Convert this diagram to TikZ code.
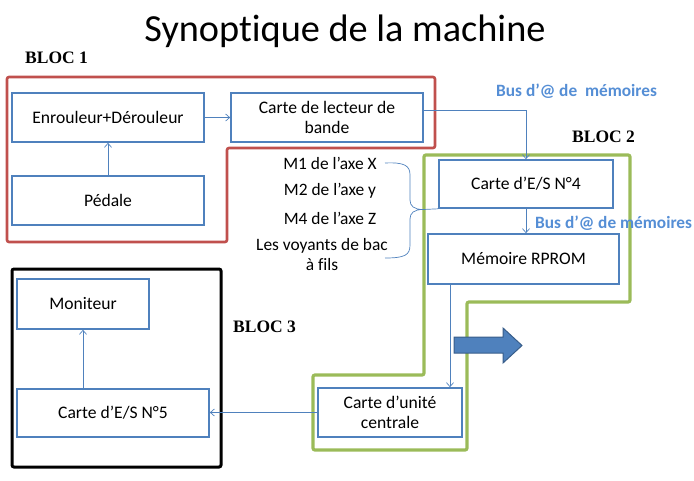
\documentclass[tikz,border=0pt]{standalone}
\usepackage{fontspec}
\setmainfont{Carlito}[Ligatures={NoCommon}]
\newfontfamily\blocfont{Liberation Serif}
\usetikzlibrary{arrows.meta,calc}
\definecolor{boxblue}{HTML}{4F81BD}
\definecolor{busblue}{HTML}{558ED5}
\definecolor{redb}{HTML}{C0504D}
\definecolor{greenb}{HTML}{9BBB59}
\definecolor{darkblue}{HTML}{385D8A}
\tikzset{
  box/.style={draw=boxblue, line width=1.6pt, inner sep=0pt, align=center,
    font=\fontsize{17.6}{20.5}\selectfont, text=black},
  conn/.style={draw=boxblue, line width=0.7pt, -{Straight Barb[length=4pt,width=7pt]}},
  plain/.style={draw=boxblue, line width=0.7pt},
  bloc/.style={font=\blocfont\bfseries\fontsize{17.5}{20}\selectfont, inner sep=0pt},
  bus/.style={font=\bfseries\fontsize{17.3}{18}\selectfont, text=busblue, inner sep=0pt},
  lbl/.style={font=\fontsize{17.4}{20}\selectfont, inner sep=0pt, align=center},
}
\begin{document}
\begin{tikzpicture}[x=1pt,y=-1pt]
\useasboundingbox (0,0) rectangle (694,480);
% title
\node[inner sep=0pt, font=\fontsize{38.3}{42}\selectfont] (title) at (345,31) {Synoptique de la machine};
% bloc outlines
\draw[redb, line width=2.6pt, rounded corners=2pt] (7,77) -- (435,77) -- (435,148) -- (227,148) -- (227,242) -- (7,242) -- cycle;
\draw[greenb, line width=3.2pt, rounded corners=2pt] (424,155) -- (630,155) -- (630,302) -- (467,302) -- (467,450) -- (313,450) -- (313,375) -- (424,375) -- cycle;
\draw[black, line width=3pt, rounded corners=2pt] (12,269) rectangle (221,467);
% block labels
\node[bloc, anchor=west] (b1) at (25,58) {BLOC 1};
\node[bloc, anchor=west] (b2) at (572,137) {BLOC 2};
\node[bloc, anchor=west] (b3) at (233,327) {BLOC 3};
\node[bus, anchor=west] (bus1) at (496,91) {Bus d’@ de \ mémoires};
\node[bus, anchor=west] (bus2) at (535,223) {Bus d’@ de mémoires};
% boxes
\node[box, minimum width=192pt, minimum height=49pt] (enr) at (108,117.5) {Enrouleur+Dérouleur};
\node[box, minimum width=192pt, minimum height=49pt] (lec) at (327,117.5) {Carte de lecteur de\\bande};
\node[box, minimum width=192pt, minimum height=49pt] (ped) at (108,200.5) {Pédale};
\node[box, minimum width=174pt, minimum height=48pt] (es4) at (526,184) {Carte d’E/S N°4};
\node[box, minimum width=191pt, minimum height=50pt] (mem) at (523.5,259) {Mémoire RPROM};
\node[box, minimum width=144pt, minimum height=49pt] (uc) at (390,412.5) {Carte d’unité\\centrale};
\node[box, minimum width=192pt, minimum height=48pt] (es5) at (113,413) {Carte d’E/S N°5};
\node[box, minimum width=132pt, minimum height=50pt] (mon) at (83,304) {Moniteur};
% side labels
\node[lbl] (m1) at (330,163) {M1 de l’axe X};
\node[lbl] (m2) at (330,191) {M2 de l’axe y};
\node[lbl] (m4) at (330,218) {M4 de l’axe Z};
\node[lbl] (lv) at (322,255) {Les voyants de bac\\à fils};
% brace
\coordinate (bt) at (385,163);
\coordinate (bm) at (423,209.5);
\coordinate (bb) at (385,258);
\draw[plain] (bt) .. controls (405,162) and (410,166) .. (410,175) -- (410,200) .. controls (410,206) and (414,209.5) .. (bm)
  .. controls (414,209.5) and (410,213) .. (410,219) -- (410,245) .. controls (410,255) and (405,258) .. (bb);
\draw[plain] (bm) -- (es4.south west);
% connectors
\draw[conn] (ped) -- (enr);
\draw[conn] (enr) -- (lec);
\coordinate (busturn) at (526,110);
\draw[conn] (lec.east |- busturn) -| (es4.north);
\draw[conn] (es4.south) -- (es4.south |- mem.north);
\coordinate (memx) at (450,0);
\draw[conn] (memx |- mem.south) -- (memx |- uc.north);
\draw[conn] (uc.west) -- (uc.west -| es5.east);
\draw[conn] (es5.north -| mon.south) -- (mon.south);
% big arrow
\draw[fill=boxblue, draw=darkblue, line width=1pt] (454,337) -- (503,337) -- (503,328) -- (522,345.5) -- (503,363) -- (503,353) -- (454,353) -- cycle;
\end{tikzpicture}
\end{document}
